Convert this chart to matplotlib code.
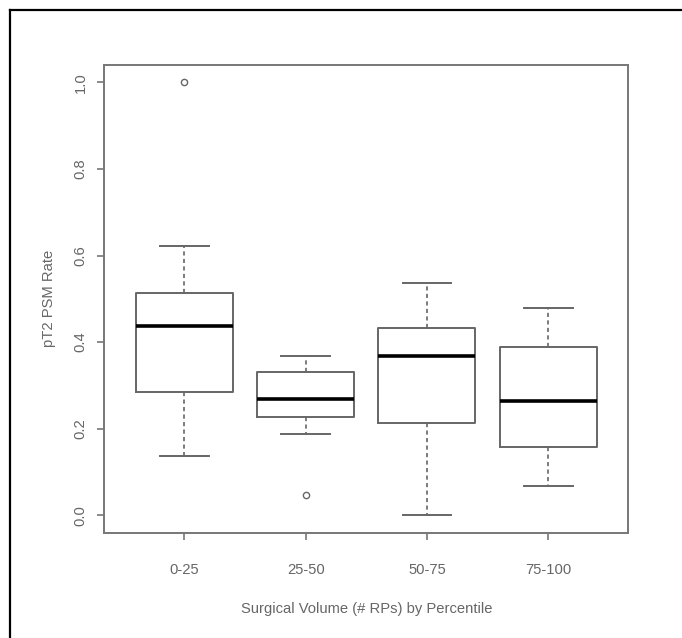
import matplotlib.pyplot as plt
from matplotlib.lines import Line2D

# values (pT2 PSM rate by surgical volume percentile)
groups = ['0-25', '25-50', '50-75', '75-100']
whislo = [0.137, 0.188, 0.0, 0.067]
q1 = [0.286, 0.228, 0.213, 0.158]
med = [0.437, 0.268, 0.368, 0.264]
q3 = [0.514, 0.332, 0.433, 0.389]
whishi = [0.621, 0.369, 0.537, 0.478]
fliers = [[1.0], [0.047], [], []]

W, H = 682, 638
fig = plt.figure(figsize=(W / 100, H / 100), dpi=100)
plt.rcParams['font.family'] = ['Liberation Sans', 'DejaVu Sans']

ax = fig.add_axes([104.3 / W, 1 - 532.7 / H, 524 / W, 467.7 / H])

stats = []
for i, g in enumerate(groups):
    stats.append(dict(label=g, whislo=whislo[i], q1=q1[i], med=med[i],
                      q3=q3[i], whishi=whishi[i], fliers=fliers[i]))

gray = '#666666'
ax.bxp(stats, positions=range(1, len(groups) + 1), widths=0.8,
       capwidths=0.4, showfliers=True,
       boxprops=dict(color=gray, linewidth=1.4),
       medianprops=dict(color='black', linewidth=2.6, solid_capstyle='butt'),
       whiskerprops=dict(color=gray, linewidth=1.2, linestyle=(0, (2.5, 2))),
       capprops=dict(color=gray, linewidth=1.4),
       flierprops=dict(marker='o', markersize=4.5, markerfacecolor='none',
                       markeredgecolor=gray, markeredgewidth=1.0))

ax.set_xlim(0.34, 4.66)
ax.set_ylim(-0.04, 1.04)
ax.set_yticks([0.0, 0.2, 0.4, 0.6, 0.8, 1.0])
ax.set_yticklabels(['0.0', '0.2', '0.4', '0.6', '0.8', '1.0'],
                   rotation=90, va='center')
ax.set_xticks(range(1, len(groups) + 1))
ax.set_xticklabels(groups)

txt = '#666666'
for s in ax.spines.values():
    s.set_color('#777777')
    s.set_linewidth(1.4)
ax.tick_params(axis='both', direction='out', length=5, width=1.2,
               color='#777777', labelcolor=txt, labelsize=10.6, pad=7)
ax.tick_params(axis='x', pad=16.5)

ax.set_xlabel('Surgical Volume (# RPs) by Percentile', fontsize=10.6,
              color=txt, labelpad=18)
ax.set_ylabel('pT2 PSM Rate', fontsize=10.6, color=txt, labelpad=13)

# outer frame (left and top edges only)
fx = 10 / W
fy = 1 - 10 / H
fig.add_artist(Line2D([fx, fx], [0, fy], color='black', linewidth=1.6,
                      transform=fig.transFigure))
fig.add_artist(Line2D([fx, 1], [fy, fy], color='black', linewidth=1.6,
                      transform=fig.transFigure))

fig.savefig('out.png', dpi=100)
